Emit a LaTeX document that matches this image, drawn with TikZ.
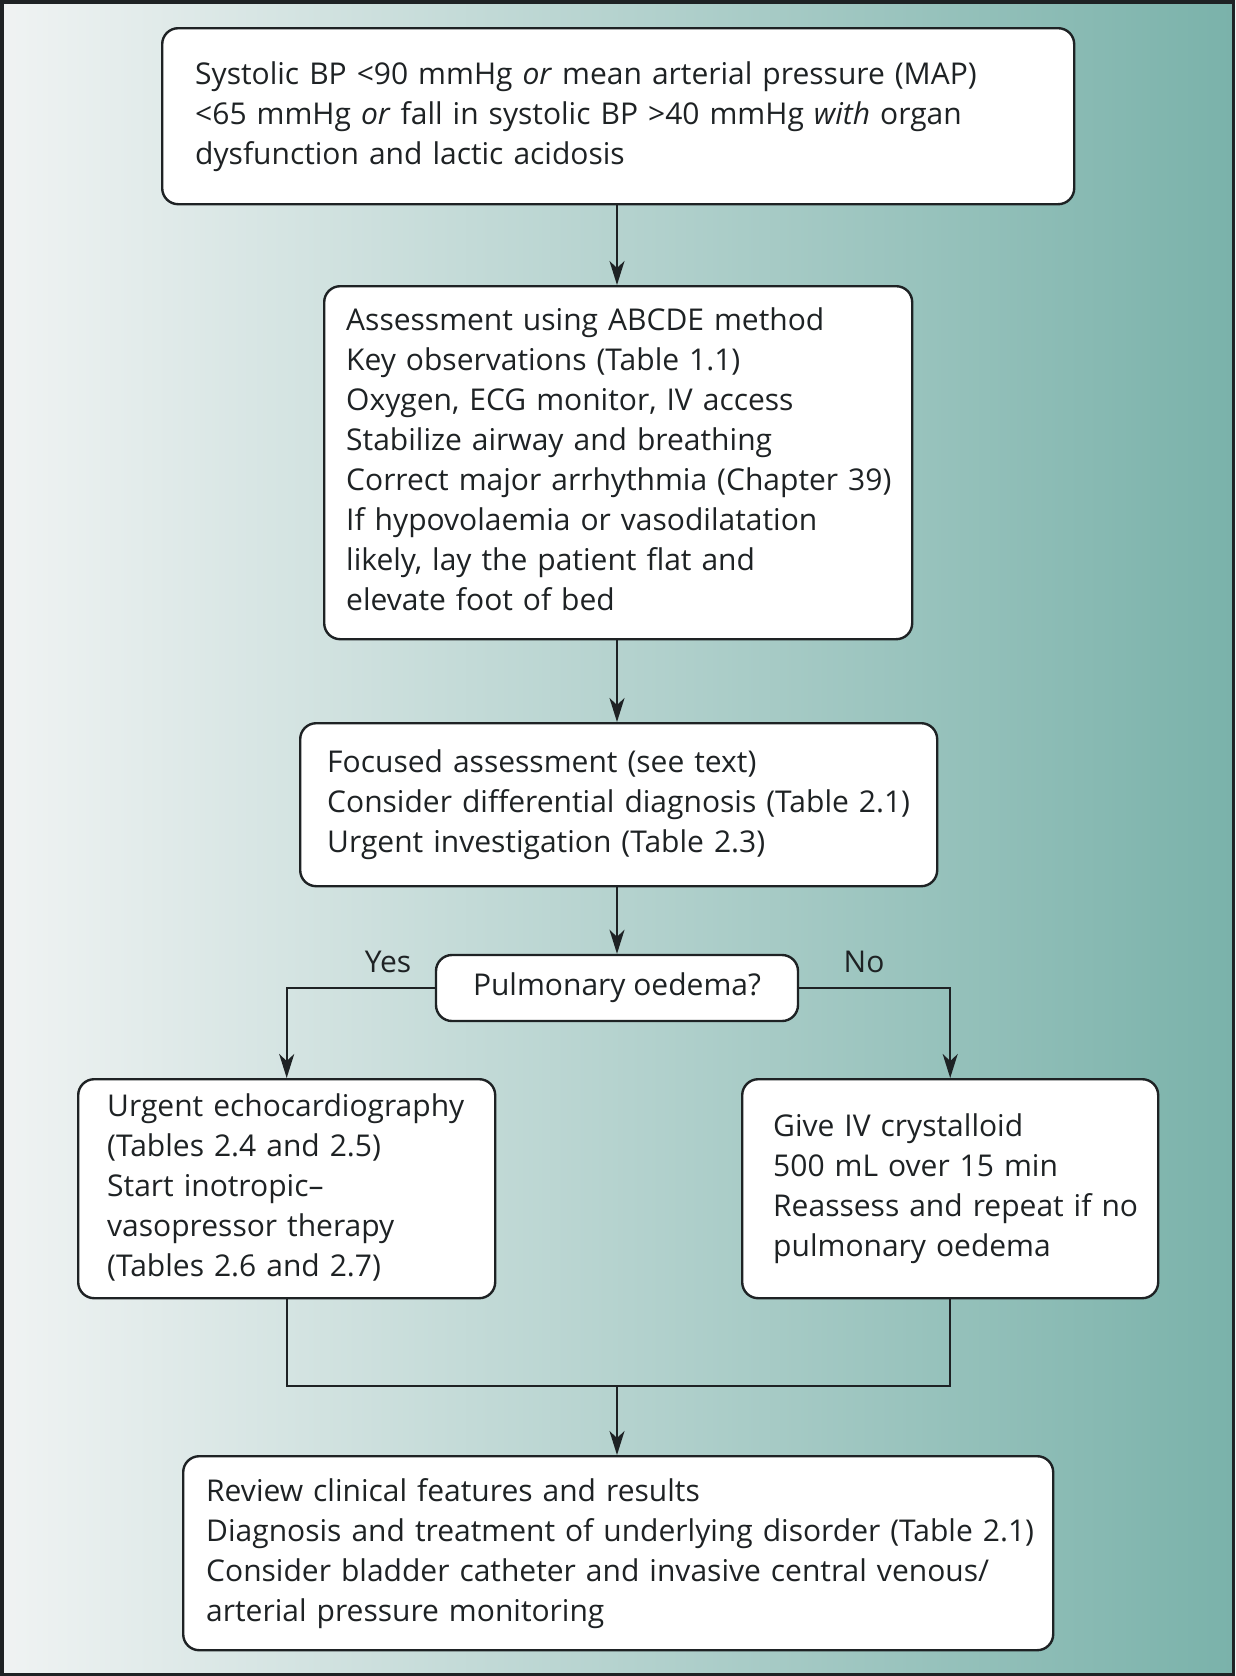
\documentclass[tikz,border=0pt]{standalone}
\usepackage{fontspec}
\setmainfont{Open Sans}
\usetikzlibrary{arrows.meta,calc}
\definecolor{bgleft}{HTML}{F0F3F3}
\definecolor{bgright}{HTML}{7AB2AA}
\definecolor{ink}{HTML}{1E2224}
\newcommand{\lines}[1]{\begin{tabular}{@{}l@{}}#1\end{tabular}}
\begin{document}
\begin{tikzpicture}[x=1pt,y=-1pt,
  font=\fontsize{30}{40}\selectfont,
  box/.style={draw=ink, line width=2.4pt, fill=white, rounded corners=16pt, align=left, text=ink, inner ysep=0pt, anchor=north west},
  conn/.style={draw=ink, line width=2pt},
  arr/.style={conn, -{Stealth[length=24pt,width=15pt,inset=7pt]}},
  lbl/.style={text=ink, inner sep=0pt}
]
\useasboundingbox (0,0) rectangle (1235,1676);
\fill[left color=bgleft, right color=bgright] (0,0) rectangle (1235,1676);
\draw[ink, line width=3.5pt] (1.75,1.75) rectangle (1233.25,1674.25);

\node[box, minimum width=912pt, minimum height=176pt, text width=846pt, inner xsep=33pt] (b1) at (161,27)
 {\lines{Systolic BP <90 mmHg \emph{or} mean arterial pressure (MAP)\\
  <65 mmHg \emph{or} fall in systolic BP >40 mmHg \emph{with} organ\\
  dysfunction and lactic acidosis}};

\node[box, minimum width=588pt, minimum height=353pt, text width=544pt, inner xsep=22pt] (b2) at (323,285)
 {\lines{Assessment using ABCDE method\\
  Key observations (Table 1.1)\\
  Oxygen, ECG monitor, IV access\\
  Stabilize airway and breathing\\
  Correct major arrhythmia (Chapter 39)\\
  If hypovolaemia or vasodilatation\\
  likely, lay the patient flat and\\
  elevate foot of bed}};

\node[box, minimum width=637pt, minimum height=163pt, text width=583pt, inner xsep=27pt] (b3) at (299,722)
 {\lines{Focused assessment (see text)\\
  Consider differential diagnosis (Table 2.1)\\
  Urgent investigation (Table 2.3)}};

\node[box, anchor=center, minimum width=362pt, minimum height=66pt, align=center] (dec) at (617,988) {Pulmonary oedema?};

\node[box, minimum width=417pt, minimum height=219pt, text width=359pt, inner xsep=29pt] (bl) at (77,1078)
 {\lines{Urgent echocardiography\\
  (Tables 2.4 and 2.5)\\
  Start inotropic–\\
  vasopressor therapy\\
  (Tables 2.6 and 2.7)}};

\node[box, minimum width=416pt, minimum height=219pt, text width=354pt, inner xsep=31pt] (br) at (741,1078)
 {\lines{Give IV crystalloid\\
  500 mL over 15 min\\
  Reassess and repeat if no\\
  pulmonary oedema}};

\node[box, minimum width=870pt, minimum height=194pt, text width=824pt, inner xsep=23pt] (b4) at (182,1455)
 {\lines{Review clinical features and results\\
  Diagnosis and treatment of underlying disorder (Table 2.1)\\
  Consider bladder catheter and invasive central venous/\\
  arterial pressure monitoring}};

\node[lbl] (yes) at (388,962) {Yes};
\node[lbl] (no) at (864,962) {No};

\coordinate (merge) at (617,1386);

\draw[arr] (b1.south -| merge) -- (b2.north -| merge);
\draw[arr] (b2.south -| merge) -- (b3.north -| merge);
\draw[arr] (b3.south -| merge) -- (dec.north);
\draw[arr] (dec.west) -| (bl.north);
\draw[arr] (dec.east) -| (br.north);
\draw[conn] (bl.south) |- (merge) -| (br.south);
\draw[arr] (merge) -- (b4.north -| merge);
\end{tikzpicture}
\end{document}
